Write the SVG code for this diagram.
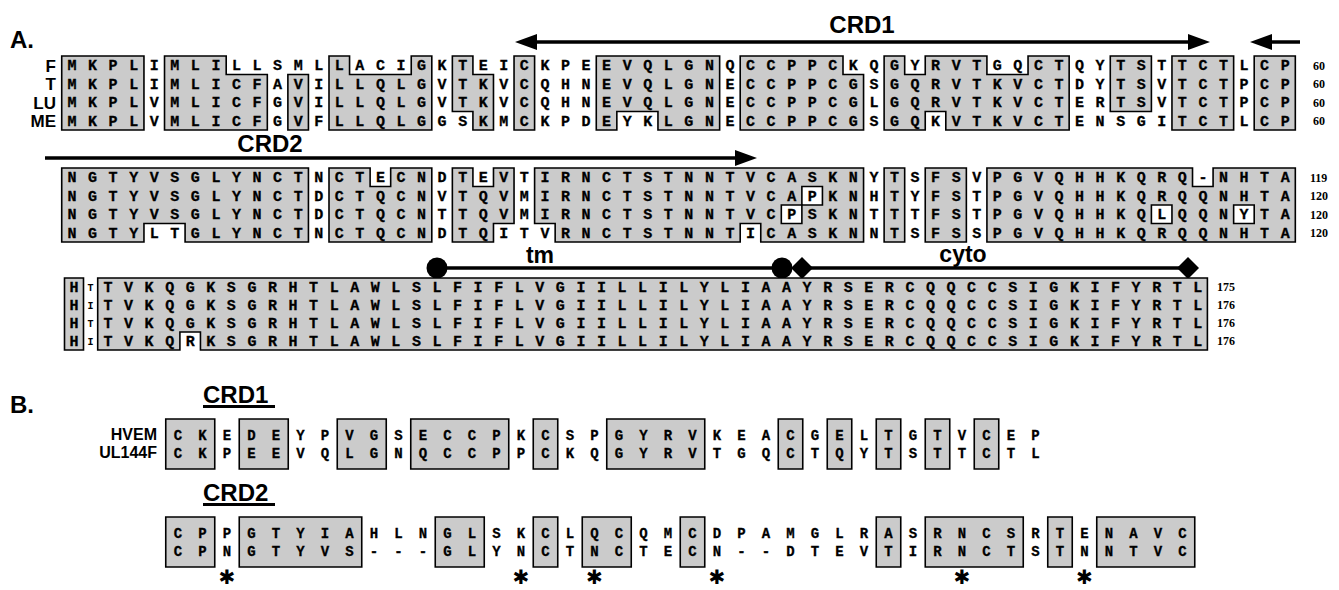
<svg xmlns="http://www.w3.org/2000/svg" width="1339" height="590" viewBox="0 0 1339 590">
<style>
.res{font-family:"Liberation Mono",monospace;font-weight:bold;font-size:15px;letter-spacing:11.56px;fill:#000;stroke:#000;stroke-width:0.3px}
.res1{font-family:"Liberation Mono",monospace;font-weight:bold;font-size:15px;fill:#000;stroke:#000;stroke-width:0.3px;text-anchor:middle}
.resb{font-family:"Liberation Mono",monospace;font-weight:bold;font-size:14px;letter-spacing:16.1px;fill:#000;stroke:#000;stroke-width:0.3px}
.sh{fill:#cbcbcb;stroke:#000;stroke-width:1.6px;vector-effect:non-scaling-stroke}
.wh{fill:#fff;stroke:#000;stroke-width:1.6px;vector-effect:non-scaling-stroke}
.lab{font-family:"Liberation Sans",Arial,sans-serif;font-weight:bold;fill:#000}
.num{font-family:"Liberation Serif",serif;font-weight:bold;font-size:12px;fill:#000}
.ln{stroke:#000;stroke-width:3.5;fill:none}
.sm{font-family:"Liberation Mono",monospace;font-weight:bold;font-size:10px;text-anchor:middle}
.ast{font-family:"DejaVu Sans","Noto Sans",sans-serif;font-weight:bold;font-size:20px;text-anchor:middle}
</style>
<defs>
<marker id="ah" viewBox="0 0 22 16" refX="16" refY="8" markerWidth="22" markerHeight="16" markerUnits="userSpaceOnUse" orient="auto-start-reverse"><path d="M0 0L22 8L0 16Z" fill="#000"/></marker>
</defs>
<rect width="1339" height="590" fill="#fff"/>

<g id="panelA-label"><text class="lab" x="10" y="48" font-size="24">A.</text></g>

<g id="connectors">
<line class="ln" x1="521" y1="42" x2="1204" y2="42" marker-start="url(#ah)" marker-end="url(#ah)"/>
<line class="ln" x1="1300" y1="42" x2="1256" y2="42" marker-end="url(#ah)"/>
<line class="ln" x1="45" y1="158" x2="751" y2="158" marker-end="url(#ah)"/>
<line class="ln" x1="437" y1="268" x2="782" y2="268"/>
<circle cx="437" cy="268" r="10.5"/>
<circle cx="782" cy="268" r="10.5"/>
<line class="ln" x1="802" y1="268" x2="1188" y2="268"/>
<path d="M802 257L813 268L802 279L791 268Z"/>
<path d="M1188 257L1199 268L1188 279L1177 268Z"/>
</g>

<g id="domain-labels">
<text class="lab" x="862" y="33" font-size="24" text-anchor="middle">CRD1</text>
<text class="lab" x="270" y="152" font-size="24" text-anchor="middle">CRD2</text>
<text class="lab" x="540" y="263" font-size="23" text-anchor="middle">tm</text>
<text class="lab" x="963" y="262" font-size="23" text-anchor="middle">cyto</text>
</g>

<g id="block1">
<g transform="translate(61.72,56) scale(20.56,18.5)">
<rect class="sh" x="0" y="0" width="4" height="4"/>
<path class="sh" d="M5 0H8V1H10V4H5Z"/>
<rect class="sh" x="11" y="1" width="1" height="3"/>
<path class="sh" d="M13 0H14V1H17V0H18V4H13Z"/>
<path class="sh" d="M19 0H20V1H21V4H20V3H19Z"/>
<rect class="sh" x="22" y="0" width="1" height="4"/>
<path class="sh" d="M26 0H32V4H29V3H27V4H26Z"/>
<path class="sh" d="M33 0H38V1H39V4H33Z"/>
<path class="sh" d="M40 0H41V1H42V0H45V1H47V0H49V4H43V3H42V4H40Z"/>
<rect class="sh" x="51" y="0" width="2" height="3"/>
<rect class="sh" x="54" y="0" width="3" height="4"/>
<rect class="sh" x="58" y="0" width="2" height="4"/>
</g>
<text class="lab" font-size="17" text-anchor="end" x="56" y="71.5">F</text>
<text class="lab" font-size="17" text-anchor="end" x="56" y="90">T</text>
<text class="lab" font-size="17" text-anchor="end" x="56" y="108.5">LU</text>
<text class="lab" font-size="17" text-anchor="end" x="56" y="127">ME</text>
<text class="res" x="67.5" y="70.25">MKPLIMLILLSMLLACIGKTEICKPEEVQLGNQCCPPCKQGYRVTGQCTQYTSTTCTLCP</text>
<text class="res" x="67.5" y="88.75">MKPLIMLICFAVILLQLGVTKVCQHNEVQLGNECCPPCGSGQRVTKVCTDYTSVTCTPCP</text>
<text class="res" x="67.5" y="107.25">MKPLVMLICFGVILLQLGVTKVCQHNEVQLGNECCPPCGLGQRVTKVCTERTSVTCTPCP</text>
<text class="res" x="67.5" y="125.75">MKPLVMLICFGVFLLQLGGSKMCKPDEYKLGNECCPPCGSGQKVTKVCTENSGITCTLCP</text>
<text class="num" x="1313" y="69.5">60</text>
<text class="num" x="1313" y="88">60</text>
<text class="num" x="1313" y="106.5">60</text>
<text class="num" x="1313" y="125">60</text>
</g>

<g id="block2">
<g transform="translate(61.72,168) scale(20.56,18.5)">
<path class="sh" d="M0 0H12V4H6V3H4V4H0Z"/>
<path class="sh" d="M13 0H15V1H16V0H18V4H13Z"/>
<path class="sh" d="M19 0H20V1H21V0H22V3H21V4H19Z"/>
<path class="sh" d="M23 0H39V4H34V3H33V4H24V3H23Z"/>
<rect class="wh" x="36" y="1" width="1" height="1"/>
<rect class="wh" x="35" y="2" width="1" height="1"/>
<rect class="sh" x="40" y="0" width="1" height="4"/>
<rect class="sh" x="42" y="0" width="2" height="4"/>
<path class="sh" d="M45 0H55V1H56V0H60V4H45Z"/>
<rect class="wh" x="53" y="2" width="1" height="1"/>
<rect class="wh" x="57" y="2" width="1" height="1"/>
</g>
<text class="res" x="67.5" y="182.25">NGTYVSGLYNCTNCTECNDTEVTIRNCTSTNNTVCASKNYTSFSVPGVQHHKQRQ-NHTA</text>
<text class="res" x="67.5" y="200.75">NGTYVSGLYNCTDCTQCNVTQVMIRNCTSTNNTVCAPKNHTYFSTPGVQHHKQRQQNHTA</text>
<text class="res" x="67.5" y="219.25">NGTYVSGLYNCTDCTQCNTTQVMIRNCTSTNNTVCPSKNTTTFSTPGVQHHKQLQQNYTA</text>
<text class="res" x="67.5" y="237.75">NGTYLTGLYNCTNCTQCNDTQITVRNCTSTNNTICASKNNTSFSSPGVQHHKQRQQNHTA</text>
<text class="num" x="1310" y="181.5">119</text>
<text class="num" x="1310" y="200">120</text>
<text class="num" x="1310" y="218.5">120</text>
<text class="num" x="1310" y="237">120</text>
</g>

<g id="block3">
<rect class="sh" x="64.5" y="278" width="19" height="72"/>
<g transform="translate(97.7,278) scale(20.55,18)">
<path class="sh" d="M0 0H54V4H5V3H4V4H0Z"/>
</g>
<text class="res1" x="74" y="292">H</text>
<text class="res1" x="74" y="310">H</text>
<text class="res1" x="74" y="328">H</text>
<text class="res1" x="74" y="346">H</text>
<text class="sm" x="90.5" y="291">T</text>
<text class="sm" x="90.5" y="309">I</text>
<text class="sm" x="90.5" y="327">T</text>
<text class="sm" x="90.5" y="345">I</text>
<text class="res" x="103.5" y="292">TVKQGKSGRHTLAWLSLFIFLVGIILLILYLIAAYRSERCQQCCSIGKIFYRTL</text>
<text class="res" x="103.5" y="310">TVKQGKSGRHTLAWLSLFIFLVGIILLILYLIAAYRSERCQQCCSIGKIFYRTL</text>
<text class="res" x="103.5" y="328">TVKQGKSGRHTLAWLSLFIFLVGIILLILYLIAAYRSERCQQCCSIGKIFYRTL</text>
<text class="res" x="103.5" y="346">TVKQRKSGRHTLAWLSLFIFLVGIILLILYLIAAYRSERCQQCCSIGKIFYRTL</text>
<text class="num" x="1217" y="291">175</text>
<text class="num" x="1217" y="309">176</text>
<text class="num" x="1217" y="327">176</text>
<text class="num" x="1217" y="345">176</text>
</g>

<g id="panelB-label"><text class="lab" x="10" y="413" font-size="24">B.</text></g>

<g id="B-crd1">
<text class="lab" x="203" y="403" font-size="24">CRD1</text>
<rect x="203" y="405" width="72" height="3"/>
<g transform="translate(165.75,419) scale(24.5,50)">
<rect class="sh" x="0" y="0" width="2" height="1"/>
<rect class="sh" x="3" y="0" width="2" height="1"/>
<rect class="sh" x="7" y="0" width="2" height="1"/>
<rect class="sh" x="10" y="0" width="4" height="1"/>
<rect class="sh" x="15" y="0" width="1" height="1"/>
<rect class="sh" x="18" y="0" width="4" height="1"/>
<rect class="sh" x="25" y="0" width="1" height="1"/>
<rect class="sh" x="27" y="0" width="1" height="1"/>
<rect class="sh" x="29" y="0" width="1" height="1"/>
<rect class="sh" x="31" y="0" width="1" height="1"/>
<rect class="sh" x="33" y="0" width="1" height="1"/>
</g>
<text class="lab" font-size="16" text-anchor="end" x="157" y="440">HVEM</text>
<text class="lab" font-size="16" text-anchor="end" x="157" y="458">UL144F</text>
<text class="resb" x="173.8" y="440">CKEDEYPVGSECCPKCSPGYRVKEACGELTGTVCEP</text>
<text class="resb" x="173.8" y="458">CKPEEVQLGNQCCPPCKQGYRVTGQCTQYTSTTCTL</text>
</g>

<g id="B-crd2">
<text class="lab" x="203" y="501" font-size="24">CRD2</text>
<rect x="203" y="503" width="72" height="3"/>
<g transform="translate(165.75,517) scale(24.5,50)">
<rect class="sh" x="0" y="0" width="2" height="1"/>
<rect class="sh" x="3" y="0" width="5" height="1"/>
<rect class="sh" x="11" y="0" width="2" height="1"/>
<rect class="sh" x="15" y="0" width="1" height="1"/>
<rect class="sh" x="17" y="0" width="2" height="1"/>
<rect class="sh" x="21" y="0" width="1" height="1"/>
<rect class="sh" x="29" y="0" width="1" height="1"/>
<rect class="sh" x="31" y="0" width="4" height="1"/>
<rect class="sh" x="36" y="0" width="1" height="1"/>
<rect class="sh" x="38" y="0" width="4" height="1"/>
</g>
<text class="resb" x="173.8" y="538">CPPGTYIAHLNGLSKCLQCQMCDPAMGLRASRNCSRTENAVC</text>
<text class="resb" x="173.8" y="556">CPNGTYVS---GLYNCTNCTECN--DTEVTIRNCTSTNNTVC</text>
<text class="ast" x="227" y="584">✱</text>
<text class="ast" x="521" y="584">✱</text>
<text class="ast" x="594.5" y="584">✱</text>
<text class="ast" x="717" y="584">✱</text>
<text class="ast" x="962" y="584">✱</text>
<text class="ast" x="1084.5" y="584">✱</text>
</g>
</svg>
